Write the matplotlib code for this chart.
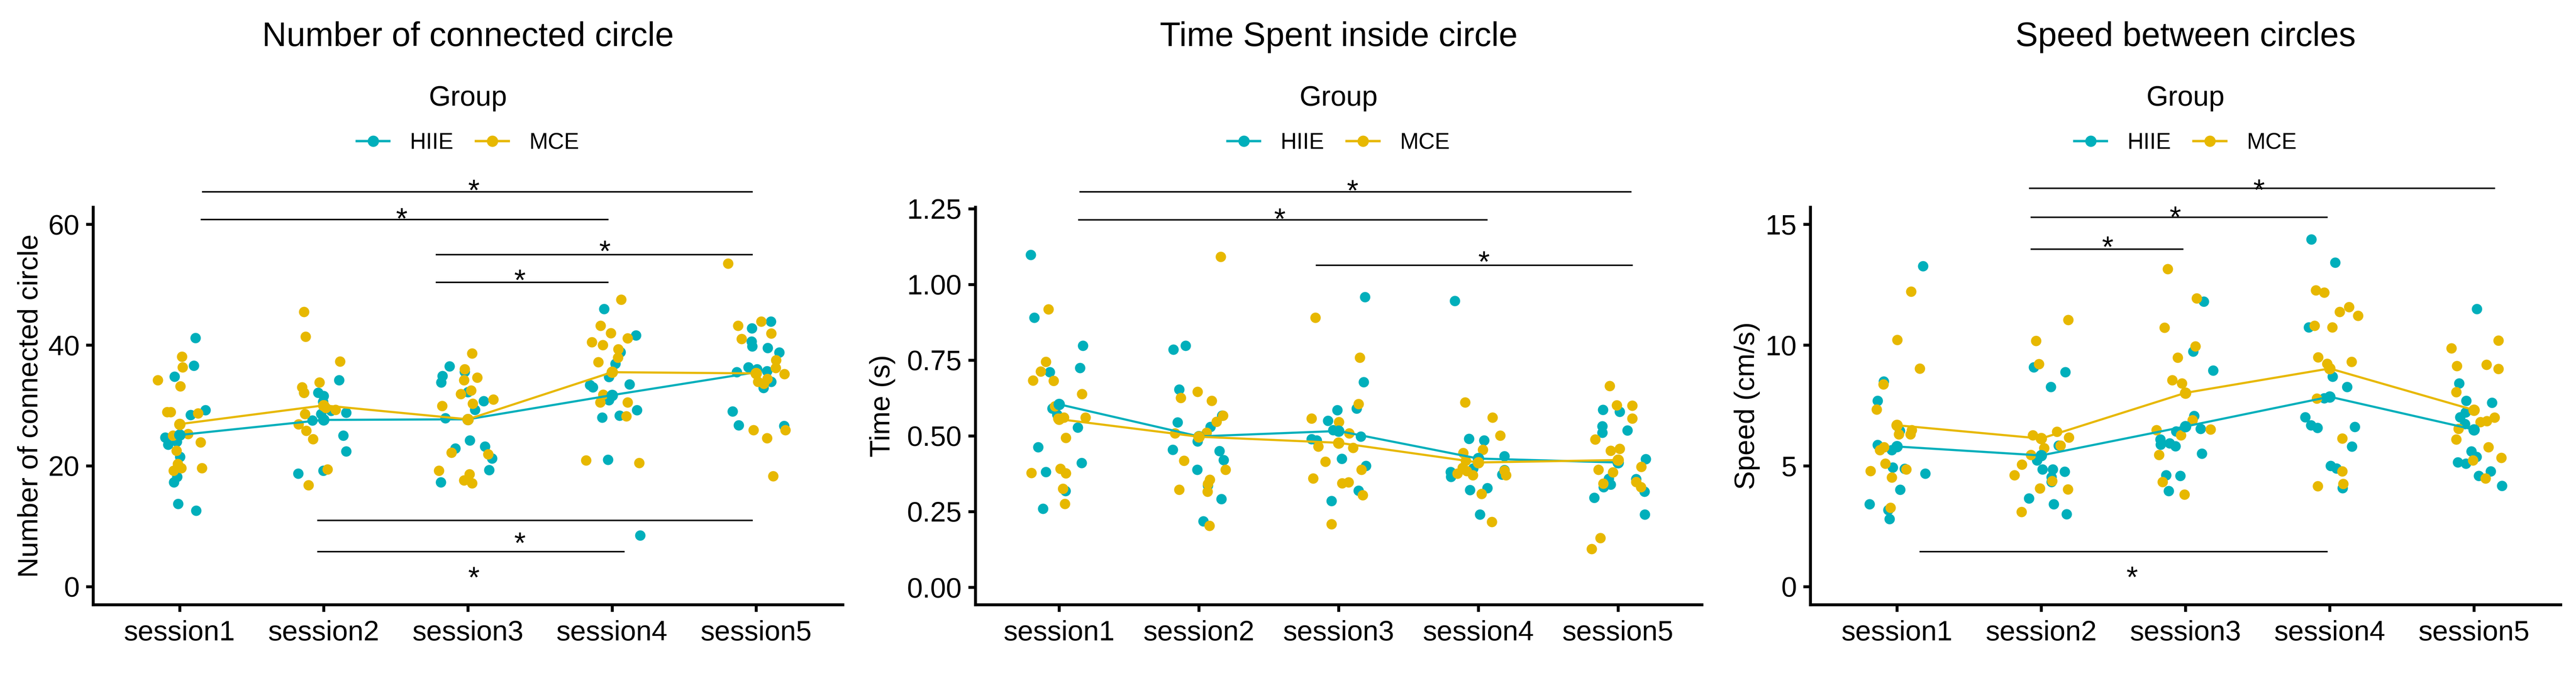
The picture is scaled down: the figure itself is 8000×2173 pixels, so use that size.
import matplotlib
matplotlib.use("Agg")
import matplotlib.pyplot as plt
from matplotlib.lines import Line2D
from matplotlib.ticker import FormatStrFormatter

plt.rcParams["font.family"] = ["Liberation Sans", "DejaVu Sans"]

# ==================================
# Categories / groups
# ==================================
sessions = ["session1", "session2", "session3", "session4", "session5"]
groups = ["HIIE", "MCE"]
group_colors = ["#00AFBB", "#E7B800"]

# ==================================
# Number of connected circle
# ==================================
conn_hiie = [
    [41.2, 36.6, 34.8, 29.2, 28.4, 24.7, 23.5, 24.0, 21.5, 18.2, 17.3, 13.7, 12.6],
    [32.1, 32.1, 31.6, 30.6, 34.2, 28.6, 29.1, 28.8, 27.5, 25.0, 22.4, 18.7, 19.2],
    [36.5, 34.9, 33.8, 35.6, 32.2, 30.7, 29.3, 27.9, 24.2, 22.9, 23.2, 21.2, 19.3, 17.3],
    [46.0, 41.6, 38.85, 36.9, 34.7, 33.4, 33.0, 33.5, 30.9, 29.2, 28.0, 28.3, 21.0, 8.5],
    [43.9, 42.8, 40.6, 39.8, 39.5, 38.8, 35.5, 36.3, 36.0, 35.7, 33.9, 32.9, 29.0, 26.7, 26.6],
]
conn_hiie_jit = [
    [0.11, 0.10, -0.035, 0.18, 0.077, -0.10, -0.08, -0.02, 0.003, -0.016, -0.04, -0.01, 0.114],
    [-0.138, -0.039, 0.0, -0.006, 0.106, -0.019, 0.05, 0.156, -0.079, 0.135, 0.156, -0.178, -0.003],
    [-0.127, -0.177, -0.186, -0.022, 0.0, 0.11, 0.05, -0.157, 0.013, -0.087, 0.119, 0.167, 0.147, -0.188],
    [-0.056, 0.167, 0.058, 0.022, -0.021, -0.154, -0.133, 0.122, -0.022, 0.172, -0.069, 0.051, -0.029, 0.194],
    [0.103, -0.03, -0.032, -0.027, 0.079, 0.16, -0.135, -0.055, 0.006, 0.074, 0.104, 0.051, -0.165, -0.122, 0.194],
]
conn_mce = [
    [34.2, 38.1, 36.3, 33.2, 28.9, 28.9, 28.7, 25.3, 25.0, 23.9, 22.5, 20.3, 19.6, 19.2, 19.6],
    [45.5, 41.4, 37.3, 33.8, 33.0, 32.1, 29.6, 29.3, 28.6, 26.9, 25.8, 24.4, 19.4, 16.8],
    [38.6, 36.0, 34.2, 34.6, 32.5, 31.9, 31.0, 30.3, 29.9, 22.2, 21.9, 19.2, 18.6, 17.6, 17.1],
    [47.5, 43.2, 42.0, 41.1, 40.5, 40.0, 39.3, 37.9, 37.2, 31.8, 30.5, 30.5, 28.2, 20.9, 20.5],
    [53.5, 43.2, 43.9, 41.9, 41.0, 37.5, 36.2, 35.2, 33.9, 34.4, 33.6, 25.9, 24.6, 25.9, 18.3],
]
conn_mce_jit = [
    [-0.152, 0.016, 0.022, 0.005, -0.087, -0.061, 0.128, 0.058, -0.047, 0.146, -0.022, -0.013, 0.011, -0.042, 0.154],
    [-0.136, -0.125, 0.114, -0.03, -0.15, -0.138, 0.014, 0.082, -0.13, -0.175, -0.122, -0.074, 0.027, -0.106],
    [0.03, -0.022, -0.026, 0.065, 0.022, -0.05, 0.177, 0.034, -0.178, -0.114, 0.14, -0.2, 0.011, -0.026, 0.029],
    [0.064, -0.079, -0.008, 0.109, -0.141, -0.063, 0.043, 0.04, -0.095, -0.061, -0.083, 0.109, 0.098, -0.181, 0.188],
    [-0.196, -0.127, 0.035, 0.104, -0.101, 0.138, 0.135, 0.196, 0.013, 0.077, 0.053, -0.018, 0.074, 0.202, 0.117],
]
conn_hiie_mean = [25.1, 27.6, 27.7, 31.7, 35.5]
conn_mce_mean = [26.9, 30.0, 27.7, 35.5, 35.3]
conn_brackets = [(1.16, 4.97, 65.4), (1.15, 3.97, 60.8), (2.78, 4.97, 55.0),
                 (2.78, 3.97, 50.4), (1.96, 4.97, 11.0), (1.96, 4.08, 5.8)]
conn_stars = [(3.04, 66.8), (2.54, 62.1), (3.95, 56.7), (3.36, 51.9), (3.36, 8.4), (3.04, 2.7)]

# ==================================
# Time spent inside circle
# ==================================
time_hiie = [
    [1.098, 0.890, 0.798, 0.724, 0.711, 0.590, 0.570, 0.528, 0.463, 0.411, 0.381, 0.318, 0.260],
    [0.785, 0.798, 0.653, 0.545, 0.530, 0.567, 0.482, 0.454, 0.450, 0.420, 0.388, 0.336, 0.291, 0.218],
    [0.958, 0.677, 0.590, 0.585, 0.550, 0.519, 0.498, 0.489, 0.485, 0.424, 0.401, 0.319, 0.285],
    [0.945, 0.490, 0.485, 0.433, 0.392, 0.381, 0.365, 0.372, 0.387, 0.321, 0.328, 0.240],
    [0.586, 0.580, 0.532, 0.510, 0.518, 0.423, 0.358, 0.331, 0.339, 0.357, 0.316, 0.296, 0.240],
]
time_hiie_jit = [
    [-0.203, -0.179, 0.170, 0.148, -0.068, -0.05, -0.015, 0.132, -0.151, 0.160, -0.095, 0.045, -0.117],
    [-0.182, -0.094, -0.141, -0.152, 0.082, 0.165, -0.009, -0.188, 0.147, 0.177, -0.012, 0.064, 0.160, 0.032],
    [0.19, 0.179, 0.129, -0.009, -0.077, -0.039, 0.159, -0.194, -0.157, 0.024, 0.195, 0.144, -0.051],
    [-0.168, -0.067, 0.041, 0.186, -0.036, -0.198, -0.195, 0.171, 0.188, -0.059, 0.065, 0.011],
    [-0.107, 0.012, -0.112, -0.112, 0.068, 0.198, -0.065, -0.103, -0.053, 0.129, 0.189, -0.171, 0.192],
]
time_mce = [
    [0.918, 0.745, 0.713, 0.683, 0.682, 0.638, 0.598, 0.557, 0.561, 0.561, 0.493, 0.391, 0.376, 0.378, 0.326, 0.275],
    [1.091, 0.646, 0.625, 0.616, 0.567, 0.547, 0.510, 0.508, 0.418, 0.388, 0.355, 0.341, 0.316, 0.322, 0.203],
    [0.890, 0.758, 0.605, 0.557, 0.546, 0.508, 0.465, 0.461, 0.415, 0.388, 0.360, 0.344, 0.347, 0.304, 0.208],
    [0.611, 0.560, 0.501, 0.454, 0.444, 0.418, 0.395, 0.375, 0.384, 0.370, 0.385, 0.370, 0.308, 0.216],
    [0.665, 0.601, 0.600, 0.557, 0.488, 0.451, 0.457, 0.398, 0.388, 0.380, 0.343, 0.348, 0.331, 0.163, 0.127],
]
time_mce_jit = [
    [-0.076, -0.095, -0.133, -0.188, -0.041, 0.162, -0.03, -0.008, 0.035, 0.188, 0.047, 0.009, 0.047, -0.198, 0.026, 0.041],
    [0.157, -0.009, -0.129, 0.091, 0.173, 0.127, 0.056, -0.171, -0.107, 0.191, 0.079, 0.064, 0.061, -0.141, 0.076],
    [-0.165, 0.151, 0.144, -0.194, 0.003, 0.075, -0.145, 0.104, -0.095, 0.163, -0.183, 0.026, 0.071, 0.172, -0.05],
    [-0.095, 0.101, 0.157, 0.032, -0.109, -0.089, -0.112, -0.15, -0.082, -0.039, 0.188, 0.198, 0.024, 0.098],
    [-0.059, -0.008, 0.103, 0.103, -0.164, -0.053, 0.012, 0.167, -0.139, -0.036, -0.106, 0.129, 0.164, -0.126, -0.188],
]
time_hiie_mean = [0.604, 0.498, 0.516, 0.425, 0.412]
time_mce_mean = [0.555, 0.497, 0.477, 0.412, 0.420]
time_brackets = [(1.15, 5.09, 1.306), (1.14, 4.06, 1.214), (2.84, 5.10, 1.064)]
time_stars = [(3.10, 1.333), (2.58, 1.239), (4.04, 1.098)]

# ==================================
# Speed between circles
# ==================================
speed_hiie = [
    [13.27, 8.50, 7.70, 6.45, 5.87, 5.65, 4.94, 4.88, 4.68, 4.02, 3.41, 3.17, 2.80],
    [9.08, 8.88, 8.27, 5.84, 5.23, 4.86, 4.86, 4.76, 4.53, 4.33, 3.65, 3.41, 3.00],
    [11.80, 9.74, 8.95, 7.07, 6.54, 6.43, 6.09, 5.88, 5.94, 5.82, 5.51, 4.62, 4.59, 3.96],
    [14.38, 13.42, 10.74, 8.70, 8.27, 7.80, 7.02, 6.68, 6.57, 6.62, 5.80, 5.00, 4.90, 4.08],
    [11.49, 8.41, 7.70, 7.61, 7.21, 7.01, 6.74, 5.60, 5.37, 5.15, 5.09, 4.78, 4.59, 4.17],
]
speed_hiie_jit = [
    [0.182, -0.092, -0.134, 0.02, -0.134, -0.035, -0.029, 0.054, 0.197, 0.023, -0.19, -0.059, -0.05],
    [-0.051, 0.167, 0.068, 0.121, -0.029, 0.008, 0.081, 0.164, 0.072, 0.072, -0.084, 0.087, 0.176],
    [0.127, 0.054, 0.193, 0.06, 0.105, -0.065, -0.175, -0.172, -0.109, -0.069, 0.113, -0.133, -0.036, -0.115],
    [-0.128, 0.038, -0.145, 0.021, 0.121, -0.039, -0.169, -0.13, -0.084, 0.175, 0.154, 0.006, 0.047, 0.089],
    [0.02, -0.104, -0.054, 0.124, -0.059, -0.096, -0.062, -0.018, 0.017, -0.112, -0.057, 0.115, 0.033, 0.194],
]
speed_mce = [
    [12.22, 10.21, 9.03, 8.37, 7.33, 6.31, 6.31, 6.48, 5.78, 5.65, 5.09, 4.79, 4.86, 4.52, 3.27],
    [11.04, 10.17, 9.21, 6.41, 6.27, 6.17, 5.73, 5.84, 5.45, 5.06, 4.62, 4.37, 4.07, 4.03, 3.09],
    [13.15, 11.94, 10.72, 9.95, 9.48, 8.55, 8.41, 6.90, 6.51, 6.48, 6.27, 5.45, 4.33, 3.82],
    [12.27, 12.17, 11.58, 11.38, 11.21, 10.80, 10.73, 9.49, 9.31, 9.23, 7.79, 6.14, 4.78, 4.16, 4.26],
    [9.87, 10.19, 9.13, 9.19, 9.01, 8.06, 7.00, 6.86, 6.82, 6.53, 6.09, 5.78, 5.34, 5.23, 4.48],
]
speed_mce_jit = [
    [0.099, 0.003, 0.158, -0.094, -0.141, 0.014, 0.095, 0.104, -0.089, -0.119, -0.081, -0.182, 0.065, -0.036, -0.045],
    [0.188, -0.036, -0.015, 0.11, -0.057, 0.193, 0.021, 0.133, -0.071, -0.133, -0.185, 0.075, -0.009, 0.185, -0.136],
    [-0.122, 0.077, -0.145, 0.07, -0.054, -0.092, -0.024, 0.05, 0.173, -0.2, -0.032, -0.184, -0.158, -0.006],
    [-0.096, -0.039, 0.134, 0.069, 0.197, -0.104, 0.017, -0.08, 0.152, -0.017, -0.089, 0.087, 0.087, -0.083, 0.093],
    [-0.157, 0.169, -0.118, 0.087, 0.169, -0.124, 0.142, 0.089, 0.044, -0.107, -0.122, 0.099, 0.19, -0.006, 0.081],
]
speed_hiie_mean = [5.80, 5.43, 6.63, 7.86, 6.50]
speed_mce_mean = [6.68, 6.13, 8.02, 9.03, 7.31]
speed_brackets = [(1.92, 5.14, 16.50), (1.93, 3.98, 15.29), (1.93, 2.98, 13.98), (1.16, 3.98, 1.455)]
speed_stars = [(3.51, 16.72), (2.93, 15.60), (2.46, 14.35), (2.63, 0.68)]

# ==================================
# Panel settings
# ==================================
panels = [
    {
        "title": "Number of connected circle",
        "ylabel": "Number of connected circle",
        "points": [(conn_hiie, conn_hiie_jit), (conn_mce, conn_mce_jit)],
        "means": [conn_hiie_mean, conn_mce_mean],
        "brackets": conn_brackets,
        "stars": conn_stars,
        "yticks": [0, 20, 40, 60],
        "ylim": (-2.99, 62.83),
        "fmt": "%d",
        "left": 289, "right": 2617, "label_x": -0.066,
    },
    {
        "title": "Time Spent inside circle",
        "ylabel": "Time (s)",
        "points": [(time_hiie, time_hiie_jit), (time_mce, time_mce_jit)],
        "means": [time_hiie_mean, time_mce_mean],
        "brackets": time_brackets,
        "stars": time_stars,
        "yticks": [0, 0.25, 0.5, 0.75, 1.0, 1.25],
        "ylim": (-0.0574, 1.255),
        "fmt": "%.2f",
        "left": 3029, "right": 5285, "label_x": -0.110,
    },
    {
        "title": "Speed between circles",
        "ylabel": "Speed (cm/s)",
        "points": [(speed_hiie, speed_hiie_jit), (speed_mce, speed_mce_jit)],
        "means": [speed_hiie_mean, speed_mce_mean],
        "brackets": speed_brackets,
        "stars": speed_stars,
        "yticks": [0, 5, 10, 15],
        "ylim": (-0.747, 15.71),
        "fmt": "%d",
        "left": 5622, "right": 7952, "label_x": -0.067,
    },
]

# ==================================
# Figure
# ==================================
W, H, DPI = 8000, 2173, 600
fig = plt.figure(figsize=(W / DPI, H / DPI), dpi=DPI)

ax_bottom = 1 - 1877 / H
ax_height = (1877 - 643) / H
tick_fs = 10.5
star_fs = 11

for p in panels:
    left = p["left"] / W
    width = (p["right"] - p["left"]) / W
    ax = fig.add_axes([left, ax_bottom, width, ax_height])
    cx = left + width / 2

    # jittered points
    for (vals, jits), color in zip(p["points"], group_colors):
        for i in range(len(sessions)):
            xs = [i + 1 + j for j in jits[i]]
            ax.scatter(xs, vals[i], s=15, color=color, linewidths=0, zorder=2)

    # mean lines
    for means, color in zip(p["means"], group_colors):
        xs = list(range(1, len(sessions) + 1))
        ax.plot(xs, means, color=color, linewidth=0.8, zorder=3)
        ax.scatter(xs, means, s=18, color=color, linewidths=0, zorder=4)

    # significance brackets
    for x1, x2, y in p["brackets"]:
        ax.plot([x1, x2], [y, y], color="black", linewidth=0.55,
                clip_on=False, zorder=5)
    for x, y in p["stars"]:
        ax.annotate("*", (x, y), xytext=(0, -0.575 * star_fs),
                    textcoords="offset points", ha="center", va="baseline",
                    fontsize=star_fs, annotation_clip=False)

    ax.set_xlim(0.4, 5.6)
    ax.set_ylim(*p["ylim"])
    ax.set_xticks(range(1, len(sessions) + 1))
    ax.set_xticklabels(sessions)
    ax.set_yticks(p["yticks"])
    ax.yaxis.set_major_formatter(FormatStrFormatter(p["fmt"]))

    for side in ["top", "right"]:
        ax.spines[side].set_visible(False)
    for side in ["left", "bottom"]:
        ax.spines[side].set_linewidth(1.1)

    ax.tick_params(axis="both", length=2.65, width=1.1, labelsize=tick_fs,
                   colors="black")
    ax.tick_params(axis="x", pad=3.1)
    ax.tick_params(axis="y", pad=2.4)

    ax.set_ylabel(p["ylabel"], fontsize=tick_fs)
    ax.yaxis.set_label_coords(p["label_x"], 0.5)

    # title and legend
    fig.text(cx, 1 - 143 / H, p["title"], ha="center", va="baseline",
             fontsize=12.6)
    fig.text(cx, 1 - 328 / H, "Group", ha="center", va="baseline",
             fontsize=tick_fs)
    handles = [
        Line2D([0], [0], color=c, marker="o", markersize=4.2,
               markeredgewidth=0, linewidth=0.9)
        for c in group_colors
    ]
    fig.legend(handles, groups, loc="center", bbox_to_anchor=(cx, 1 - 444 / H),
               ncol=2, frameon=False, fontsize=8.4, handlelength=1.45,
               handletextpad=0.9, columnspacing=1.0, borderpad=0,
               borderaxespad=0)

fig.savefig("out.png", dpi=DPI)
